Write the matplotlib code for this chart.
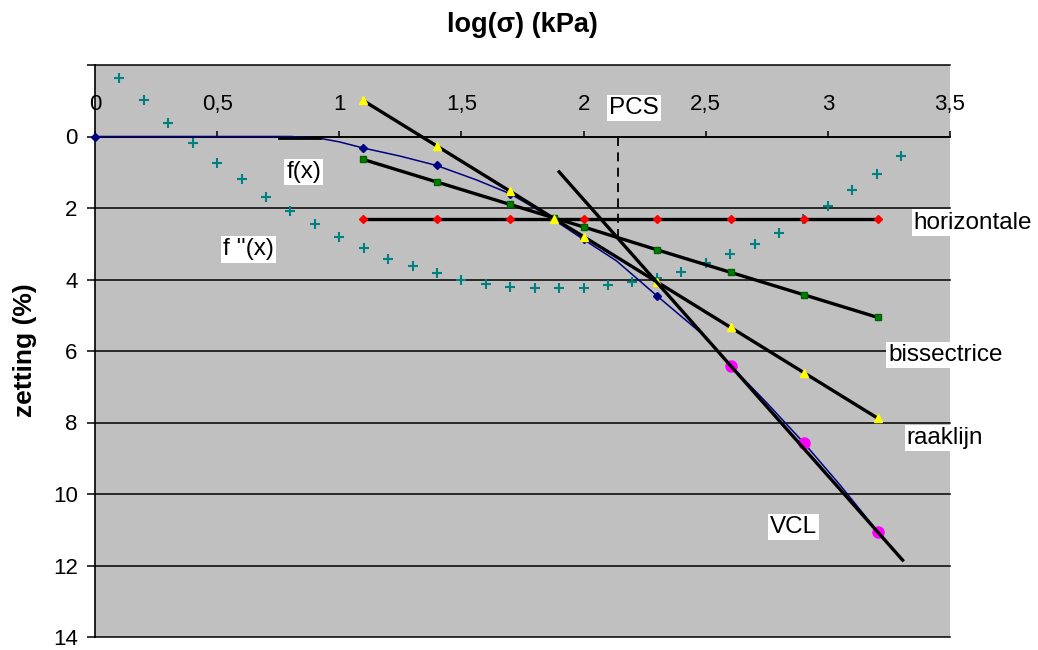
import numpy as np
import matplotlib.pyplot as plt

plt.rcParams['font.family'] = ['Liberation Sans', 'DejaVu Sans']

# log(sigma) values of the load steps
logs = [0, 1.097, 1.398, 1.699, 2.0, 2.301, 2.602, 2.903, 3.204]
# measured settlement f(x)
fx = [0, 0.32, 0.81, 1.60, 2.88, 4.46, 6.41, 8.58, 11.05]
# smooth f(x) curve
curve_x = [0, 0.80, 0.92, 1.0, 1.097, 1.25, 1.398, 1.56, 1.699, 1.85, 2.0,
           2.135, 2.301, 2.476, 2.602, 2.75, 2.903, 3.05, 3.204]
curve_y = [0, 0.0, 0.05, 0.15, 0.32, 0.55, 0.81, 1.21, 1.60, 2.20, 2.88,
           3.48, 4.46, 5.47, 6.41, 7.45, 8.58, 9.75, 11.05]

# second derivative f''(x)
f2_x = [0.1, 0.2, 0.3, 0.4, 0.5, 0.6, 0.7, 0.8, 0.9, 1.0, 1.1, 1.2, 1.3,
        1.4, 1.5, 1.6, 1.7, 1.8, 1.9, 2.0, 2.1, 2.2, 2.3, 2.4, 2.5, 2.6,
        2.7, 2.8, 2.9, 3.0, 3.1, 3.2, 3.3]
f2_y = [-1.64, -1.01, -0.39, 0.17, 0.73, 1.19, 1.68, 2.07, 2.46, 2.82, 3.13,
        3.42, 3.62, 3.81, 4.01, 4.13, 4.20, 4.24, 4.25, 4.25, 4.16, 4.08,
        3.95, 3.79, 3.55, 3.30, 3.02, 2.69, 2.30, 1.95, 1.51, 1.05, 0.54]

# construction lines
line_x = [1.097, 1.398, 1.699, 1.88, 2.0, 2.301, 2.602, 2.903, 3.204]
hor_y = [2.30, 2.30, 2.30, 2.30, 2.30, 2.30, 2.30, 2.30, 2.30]
bis_y = [0.64, 1.27, 1.90, 2.28, 2.53, 3.17, 3.80, 4.43, 5.06]
raak_y = [-1.01, 0.26, 1.53, 2.30, 2.80, 4.07, 5.34, 6.61, 7.88]

vcl_x = [1.90, 3.306]
vcl_y = [0.99, 11.85]
vcl_pts_x = [2.602, 2.903, 3.204]
vcl_pts_y = [6.41, 8.58, 11.05]

pcs_x = [2.14, 2.14]
pcs_y = [0, 2.82]

seg_x = [0.755, 0.921]
seg_y = [0.04, 0.04]

fig = plt.figure(figsize=(10.38, 6.5), dpi=100)
ax = fig.add_axes([95/1038, 13/650, 855/1038, 572/650])
ax.set_facecolor('#c0c0c0')
ax.set_xlim(0, 3.5)
ax.set_ylim(14, -2)

ax.set_yticks(np.arange(-2, 15, 2))
ax.set_yticklabels([''] + [str(v) for v in range(0, 15, 2)])
ax.set_xticks(np.arange(0, 3.51, 0.5))
ax.set_xticklabels(['0', '0,5', '1', '1,5', '2', '2,5', '3', '3,5'])

ax.xaxis.tick_top()
ax.spines['top'].set_position(('data', 0))
for s in ['right', 'bottom']:
    ax.spines[s].set_visible(False)
ax.spines['left'].set_linewidth(1.2)
ax.spines['top'].set_linewidth(1.2)
ax.tick_params(axis='x', direction='out', length=4.5, width=1.1, pad=11,
               labelsize=16, colors='black')
ax.tick_params(axis='y', direction='out', length=5.5, width=1.1, pad=7,
               labelsize=16)
ax.set_axisbelow(True)
ax.grid(axis='y', color='black', lw=1.1)
ax.grid(axis='x', visible=False)
for gl in ax.yaxis.get_gridlines():
    gl.set_clip_on(False)

# f''(x)
ax.plot(f2_x, f2_y, ls='none', marker='+', color='#008080', ms=7, mew=1.5,
        zorder=3)

# f(x)
ax.plot(curve_x, curve_y, color='#000080', lw=1.1, zorder=4)
ax.plot(logs, fx, ls='none', marker='D', color='#000080', ms=4.5, zorder=4,
        clip_on=False)
ax.plot(seg_x, seg_y, color='black', lw=2, zorder=4)

# horizontale, bissectrice, raaklijn
ax.plot(line_x, hor_y, color='black', lw=2.4, marker='D', ms=4.5,
        mfc='red', mec='red', zorder=5)
ax.plot(line_x, bis_y, color='black', lw=2.4, marker='s', ms=4.5,
        mfc='#008000', mec='#006000', zorder=5)
ax.plot(line_x, raak_y, color='black', lw=2.4, marker='^', ms=6,
        mfc='yellow', mec='yellow', zorder=5)

# VCL
ax.plot(vcl_x, vcl_y, color='black', lw=2.4, zorder=5)
ax.plot(vcl_pts_x, vcl_pts_y, ls='none', marker='o', ms=8, color='magenta',
        zorder=4)

# PCS
ax.plot(pcs_x, pcs_y, color='black', lw=1.3, ls=(0, (5, 3.5)), zorder=3)

box = dict(facecolor='white', edgecolor='none', pad=1.5)
labels = [('PCS', 2.206, -0.80), ('f(x)', 0.855, 0.99), ("f ''(x)", 0.628, 3.16),
          ('horizontale', 3.594, 2.41), ('bissectrice', 3.483, 6.12),
          ('raaklijn', 3.48, 8.44), ('VCL', 2.86, 10.92)]
for txt, x, y in labels:
    ax.text(x, y, txt, ha='center', va='center', fontsize=17.5, bbox=box,
            zorder=6, clip_on=False)

fig.text(522/1038, 1 - 25/650, 'log(σ) (kPa)', ha='center', va='center',
         fontsize=19.5, fontweight='bold')
fig.text(25/1038, 1 - 350/650, 'zetting (%)', ha='center', va='center',
         rotation=90, fontsize=19, fontweight='bold')

fig.savefig('out.png', dpi=100)
